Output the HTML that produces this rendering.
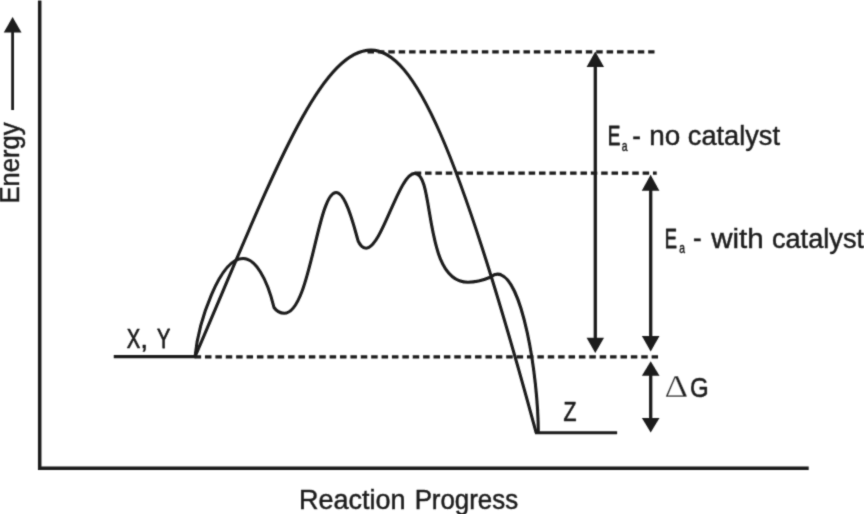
<!DOCTYPE html>
<html lang="en">
<head>
<meta charset="utf-8">
<title>Reaction energy diagram</title>
<style>
html,body{margin:0;padding:0;background:#fff;}
body{width:864px;height:514px;overflow:hidden;}
svg{display:block;}
.serif{font-family:"Liberation Serif",serif;stroke:#fff;}
text{font-family:"Liberation Sans",sans-serif;fill:#1c1c1c;stroke:#1c1c1c;vector-effect:non-scaling-stroke;stroke-linejoin:round;}
</style>
</head>
<body>
<svg width="864" height="514" viewBox="0 0 864 514">
<defs><filter id="soft" x="0" y="0" width="864" height="514" filterUnits="userSpaceOnUse"><feConvolveMatrix order="3" kernelMatrix="0.0225 0.105 0.0225 0.105 0.49 0.105 0.0225 0.105 0.0225" divisor="1" edgeMode="none"/></filter></defs>
<rect width="864" height="514" fill="#fff"/>
<g filter="url(#soft)">
<g fill="none" stroke="#1c1c1c" stroke-width="3.3" stroke-linejoin="round">
  <!-- axes -->
  <path d="M39.7 0.5 V468.3 H808.7" stroke-linejoin="miter" stroke-width="3.5"/>
  <!-- reactant / product level lines -->
  <path d="M113.8 356.7 H196"/>
  <path d="M535 432.85 H617.1" stroke-width="3"/>
  <!-- dashed reference lines -->
  <path d="M194.6 356.85 H658" stroke-dasharray="6.5 3.887" stroke-width="3.3"/>
  <path d="M367.5 51.9 H654.5" stroke-dasharray="6.5 3.896" stroke-width="3.1"/>
  <path d="M414.7 173.2 H656.7" stroke-dasharray="6.5 3.86" stroke-width="3.3"/>
  <!-- uncatalysed pathway -->
  <path d="M195.1 356.4 C270.6 181 318.4 50.1 371 50.1 C413.6 50.1 458.4 145.6 536.2 432.8" stroke-width="3.1"/>
  <!-- catalysed pathway -->
  <path d="M195.1 356.4 C198.4 322 219.6 258.5 243 258.5 C255 258.5 266.8 277.4 274 307.5 C275.8 310 279.3 313.3 284.2 313.3 C310.6 313.3 317.2 192.5 336.1 192.5 C347.3 192.5 356.9 238.8 358.4 241.5 C359.8 244.3 362.2 248.2 366.1 248.2 C382 248.2 398.7 173.4 414.8 173.4 C435.3 173.4 422.5 282.3 468 282.3 C479 282.3 486.3 278.9 491.4 276.8 C493.2 274.9 495.1 274.1 497.4 274.1 C522.3 274.1 538.3 376.4 538.3 432.8" stroke-width="3.1"/>
  <!-- arrow shafts -->
  <path d="M12.6 30 V110" stroke-width="2.8"/>
  <path d="M595.3 60 V345"/>
  <path d="M650.7 185 V343"/>
  <path d="M650.7 370 V424"/>
</g>
<g fill="#1c1c1c">
  <polygon points="12.6,17 21.5,32.5 3.8,32.5"/>
  <polygon points="595.3,51.5 604,67 586.6,67"/>
  <polygon points="595.3,353.1 604,337.8 586.6,337.8"/>
  <polygon points="650.6,174.8 659.4,190.7 641.8,190.7"/>
  <polygon points="650.7,351.5 659.5,336 641.9,336"/>
  <polygon points="650.7,361.3 659.5,375.8 641.9,375.8"/>
  <polygon points="650.7,432.5 659.5,418 641.9,418"/>
</g>
<g font-size="27">
  <text transform="translate(298.93 508.50) scale(1.0008 1)" stroke-width="0.45">Reaction</text>
  <text transform="translate(414.63 508.50) scale(0.9580 1)" stroke-width="0.49">Progress</text>
  <text transform="translate(126.70 348.30) scale(0.7504 1)" stroke-width="0.65">X</text>
  <text transform="translate(140.32 348.30) scale(1.0575 1)" stroke-width="0.45">,</text>
  <text transform="translate(156.90 348.30) scale(0.7389 1)" stroke-width="0.66">Y</text>
  <text transform="translate(563.49 420.90) scale(0.7861 1)" stroke-width="0.62">Z</text>
  <text transform="translate(664.50 396.70) scale(1.1568 1)" stroke-width="0.35" font-size="32" class="serif">Δ</text>
  <text transform="translate(690.07 396.80) scale(0.8877 1)" stroke-width="0.53">G</text>
  <text transform="translate(607.65 145.30) scale(0.7023 1)" stroke-width="0.69">E</text>
  <text transform="translate(621.82 150.80) scale(0.7450 1)" stroke-width="0.40" font-size="14">a</text>
  <text transform="translate(632.27 144.80) scale(0.9614 1)" stroke-width="0.45">-</text>
  <text transform="translate(649.30 145.30) scale(1.0326 1)" stroke-width="0.45">no</text>
  <text transform="translate(687.83 145.30) scale(1.0066 1)" stroke-width="0.45">catalyst</text>
  <text transform="translate(664.66 247.60) scale(0.6781 1)" stroke-width="0.71">E</text>
  <text transform="translate(679.32 253.30) scale(0.7325 1)" stroke-width="0.40" font-size="14">a</text>
  <text transform="translate(692.97 247.10) scale(0.9614 1)" stroke-width="0.45">-</text>
  <text transform="translate(711.13 247.60) scale(1.0944 1)" stroke-width="0.45">with</text>
  <text transform="translate(771.93 247.60) scale(1.0066 1)" stroke-width="0.45">catalyst</text>
  <text transform="translate(19.2 203.49) rotate(-90) scale(0.9471 1)" stroke-width="0.45">Energy</text>
</g>
</g>
</svg>
</body>
</html>
